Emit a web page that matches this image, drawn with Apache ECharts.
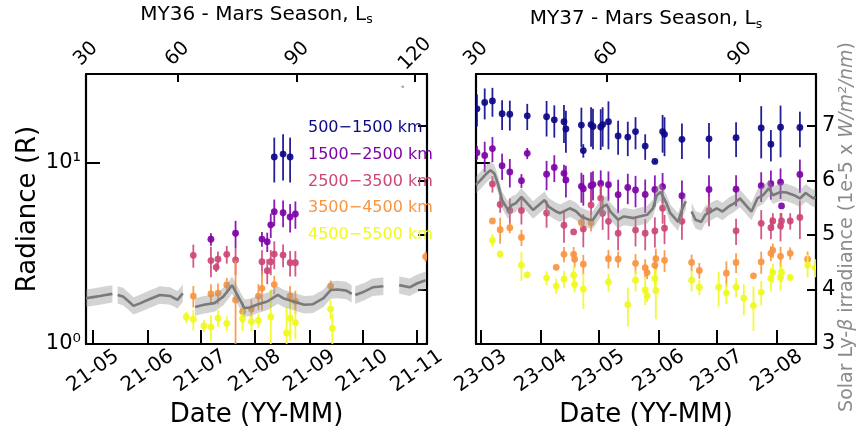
<!DOCTYPE html>
<html>
<head>
<meta charset="utf-8">
<script src="https://cdn.jsdelivr.net/npm/echarts@6/dist/echarts.min.js"></script>
<style>
  html, body { margin: 0; padding: 0; background: #fff; }
  #chart { width: 858px; height: 427px; }
</style>
</head>
<body>
<div id="chart"></div>
<script>
// ---- Altitude bands (legend labels) ----
const bandNames = ['500−1500 km', '1500−2500 km', '2500−3500 km', '3500−4500 km', '4500−5500 km'];

// ---- MY36 radiance observations: [date, radiance (R), 1-sigma error] ----
const my36Band1 = [
  ['2021-08-12', 10.8, 3.0], ['2021-08-17', 11.2, 3.2], ['2021-08-21', 10.8, 3.0]
];
const my36Band2 = [
  ['2021-07-07', 3.79, 0.3], ['2021-07-21', 4.09, 0.7], ['2021-08-05', 3.80, 0.35], ['2021-08-08', 3.67, 0.45],
  ['2021-08-10', 4.55, 0.7], ['2021-08-12', 5.38, 0.9], ['2021-08-17', 5.31, 0.9], ['2021-08-21', 5.03, 0.9],
  ['2021-08-24', 5.23, 0.9]
];
const my36Band3 = [
  ['2021-06-27', 3.09, 0.45], ['2021-07-07', 2.89, 0.55], ['2021-07-10', 2.65, 0.15], ['2021-07-11', 2.94, 0.3],
  ['2021-07-16', 3.13, 0.35], ['2021-07-21', 2.91, 0.5], ['2021-08-05', 2.85, 0.45], ['2021-08-08', 2.54, 0.4],
  ['2021-08-10', 2.85, 0.45], ['2021-08-12', 3.14, 0.55], ['2021-08-17', 3.10, 0.45], ['2021-08-21', 2.81, 0.45],
  ['2021-08-24', 2.81, 0.45]
];
const my36Band4 = [
  ['2021-06-27', 1.84, 0.25], ['2021-07-07', 1.89, 0.25], ['2021-07-11', 1.91, 0.25], ['2021-07-16', 2.12, 0.2],
  ['2021-07-21', 1.75, 1.15], ['2021-07-25', 1.51, 0.2], ['2021-07-30', 1.56, 0.2], ['2021-08-03', 1.84, 0.3],
  ['2021-08-05', 2.03, 0.5], ['2021-08-12', 2.13, 0.25], ['2021-08-21', 1.84, 0.25], ['2021-08-24', 1.72, 0.25],
  ['2021-09-13', 2.09, 0.15], ['2021-11-06', 3.04, 0.2]
];
const my36Band5 = [
  ['2021-06-23', 1.41, 0.1], ['2021-06-27', 1.37, 0.18], ['2021-07-03', 1.26, 0.1], ['2021-07-07', 1.24, 0.2],
  ['2021-07-11', 1.39, 0.15], ['2021-07-16', 1.30, 0.12], ['2021-07-25', 1.38, 0.2], ['2021-07-30', 1.33, 0.15],
  ['2021-08-03', 1.35, 0.12], ['2021-08-10', 1.41, 0.6], ['2021-08-19', 1.15, 0.45], ['2021-08-21', 1.39, 0.35],
  ['2021-08-24', 1.31, 0.25], ['2021-09-13', 1.56, 0.19], ['2021-09-14', 1.22, 0.25]
];

// ---- MY37 radiance observations ----
const my37Band1 = [
  ['2023-02-27', 19.9, 4.0], ['2023-03-03', 21.6, 4.2], ['2023-03-07', 22.0, 4.0], ['2023-03-12', 18.7, 3.5],
  ['2023-03-16', 18.6, 3.5], ['2023-03-25', 18.2, 3.0], ['2023-04-04', 18.0, 4.0], ['2023-04-08', 17.3, 3.5],
  ['2023-04-13', 16.9, 4.0], ['2023-04-14', 15.4, 4.0], ['2023-04-22', 16.2, 4.0], ['2023-04-23', 11.7, 1.0],
  ['2023-04-27', 16.3, 4.0], ['2023-04-28', 15.9, 4.0], ['2023-05-02', 15.8, 4.0], ['2023-05-03', 16.3, 4.0],
  ['2023-05-06', 16.9, 5.0], ['2023-05-11', 14.1, 3.0], ['2023-05-16', 13.9, 3.0], ['2023-05-20', 14.9, 3.0],
  ['2023-05-25', 12.4, 2.0], ['2023-05-30', 10.2, 0.2], ['2023-06-03', 14.9, 3.5], ['2023-06-04', 14.4, 3.5],
  ['2023-06-13', 13.5, 3.0], ['2023-06-27', 13.6, 3.0], ['2023-07-11', 13.8, 3.0], ['2023-07-24', 15.6, 5.0],
  ['2023-07-29', 12.7, 2.5], ['2023-08-03', 15.75, 5.0], ['2023-08-13', 15.7, 3.5]
];
const my37Band2 = [
  ['2023-02-27', 11.4, 1.0], ['2023-03-03', 11.0, 2.1], ['2023-03-07', 12.0, 1.9], ['2023-03-12', 9.66, 1.6],
  ['2023-03-16', 8.92, 1.6], ['2023-03-22', 7.98, 0.7], ['2023-03-25', 11.3, 0.8], ['2023-04-04', 8.67, 1.6],
  ['2023-04-08', 9.44, 1.6], ['2023-04-13', 8.77, 1.0], ['2023-04-14', 8.05, 1.6], ['2023-04-22', 7.43, 1.4],
  ['2023-04-23', 7.21, 1.4], ['2023-04-27', 7.49, 1.4], ['2023-04-28', 7.6, 1.4], ['2023-05-02', 7.7, 1.4],
  ['2023-05-06', 7.58, 1.4], ['2023-05-11', 6.68, 1.4], ['2023-05-16', 7.32, 1.4], ['2023-05-20', 7.09, 1.4],
  ['2023-05-25', 6.70, 1.4], ['2023-05-30', 7.14, 1.4], ['2023-06-03', 7.40, 1.4], ['2023-06-13', 6.59, 1.4],
  ['2023-06-27', 7.14, 1.4], ['2023-07-11', 7.16, 1.4], ['2023-07-24', 7.49, 1.4], ['2023-07-29', 7.68, 1.4],
  ['2023-08-03', 7.83, 1.5], ['2023-08-03T12:00', 5.79, 0], ['2023-08-13', 8.64, 1.8]
];
const my37Band3 = [
  ['2023-03-07', 7.66, 0.8], ['2023-03-11', 5.90, 0.6], ['2023-03-16', 5.47, 0.9], ['2023-03-22', 5.47, 0.9],
  ['2023-04-04', 5.29, 0.9], ['2023-04-13', 4.53, 0.9], ['2023-04-18', 4.16, 0], ['2023-04-23', 4.32, 0.9],
  ['2023-04-27', 5.86, 1.2], ['2023-05-02', 6.38, 1.2], ['2023-05-03', 5.27, 1.0], ['2023-05-06', 4.76, 1.0],
  ['2023-05-11', 4.09, 0.8], ['2023-05-20', 4.26, 0.8], ['2023-05-25', 4.09, 0.8], ['2023-05-30', 4.21, 0.8],
  ['2023-06-03', 5.62, 1.0], ['2023-06-04', 4.36, 0.8], ['2023-06-13', 4.76, 1.0], ['2023-06-27', 5.47, 1.0],
  ['2023-07-11', 4.22, 0.7], ['2023-07-24', 4.64, 0.85], ['2023-07-29', 4.39, 0.6], ['2023-07-30', 4.78, 0.5],
  ['2023-08-03', 4.49, 0.8], ['2023-08-03T12:00', 4.78, 0.5], ['2023-08-08', 4.78, 0.5], ['2023-08-13', 5.00, 1.2]
];
const my37Band4 = [
  ['2023-03-07', 4.78, 0], ['2023-03-11', 4.28, 0.7], ['2023-03-16', 4.39, 0.3], ['2023-03-22', 3.88, 0.4],
  ['2023-04-09', 2.65, 0], ['2023-04-13', 3.13, 0.3], ['2023-04-18', 3.13, 0.3], ['2023-04-18T12:00', 2.94, 0.3],
  ['2023-04-22', 4.68, 0.3], ['2023-04-23', 2.76, 0.35], ['2023-04-27', 4.68, 0.5], ['2023-05-06', 2.96, 0.35],
  ['2023-05-11', 2.94, 0.3], ['2023-05-20', 2.79, 0.35], ['2023-05-25', 2.64, 0.3], ['2023-05-26', 2.48, 0.2],
  ['2023-05-30', 2.72, 0.3], ['2023-05-30T12:00', 2.96, 0.4], ['2023-06-04', 2.90, 0.4], ['2023-06-18', 2.82, 0.3],
  ['2023-06-22', 2.55, 0.25], ['2023-07-06', 2.46, 0.4], ['2023-07-11', 2.82, 0.35], ['2023-07-20', 2.38, 0],
  ['2023-07-24', 2.84, 0.4], ['2023-07-29', 3.17, 0.3], ['2023-07-30', 3.29, 0.3], ['2023-08-03', 3.05, 0.4],
  ['2023-08-08', 3.17, 0.25], ['2023-08-17', 2.94, 0.3]
];
const my37Band5 = [
  ['2023-03-07', 3.74, 0.3], ['2023-03-11', 3.14, 0.15], ['2023-03-22', 2.73, 0.5], ['2023-03-25', 2.41, 0.1],
  ['2023-04-04', 2.32, 0.2], ['2023-04-09', 2.09, 0.2], ['2023-04-13', 2.28, 0.25], ['2023-04-18', 2.40, 0.3],
  ['2023-04-18T12:00', 2.13, 0.2], ['2023-04-23', 2.01, 0.45], ['2023-05-06', 2.20, 0.25], ['2023-05-16', 1.65, 0.4],
  ['2023-05-20', 2.25, 0.3], ['2023-05-25', 1.99, 0.35], ['2023-05-26', 1.85, 0.15], ['2023-05-30', 2.30, 0.3],
  ['2023-05-30T12:00', 1.97, 0.6], ['2023-06-18', 2.25, 0.3], ['2023-06-22', 2.06, 0.2], ['2023-07-02', 2.06, 0.45],
  ['2023-07-06', 1.91, 0.25], ['2023-07-11', 2.06, 0.25], ['2023-07-15', 1.79, 0.35], ['2023-07-20', 1.63, 0.45],
  ['2023-07-24', 1.93, 0.3], ['2023-07-29', 2.30, 0.35], ['2023-07-30', 2.48, 0.3], ['2023-08-03', 2.33, 0.35],
  ['2023-08-03T12:00', 2.49, 0.3], ['2023-08-08', 2.33, 0.1], ['2023-08-17', 2.73, 0.4], ['2023-08-21', 2.64, 0.3]
];

// ---- Solar Lyman-beta irradiance (1e-5 W/m^2/nm), null = data gap ----
const my36Lya = [
  ['2021-04-27', 3.84], ['2021-05-01', 3.86], ['2021-05-05', 3.88], ['2021-05-08', 3.90], ['2021-05-12', 3.92],
  ['2021-05-14', null], ['2021-05-15', 3.90], ['2021-05-18', 3.87], ['2021-05-21', 3.79], ['2021-05-24', 3.70],
  ['2021-05-28', 3.75], ['2021-06-02', 3.82], ['2021-06-08', 3.90], ['2021-06-14', 3.88], ['2021-06-18', 3.81],
  ['2021-06-21', 3.93], ['2021-06-24', null], ['2021-06-28', 3.68], ['2021-07-03', 3.72], ['2021-07-09', 3.75],
  ['2021-07-14', 3.87], ['2021-07-17', 3.99], ['2021-07-19', 4.08], ['2021-07-23', 3.84], ['2021-07-26', 3.66],
  ['2021-07-29', 3.67], ['2021-08-02', 3.72], ['2021-08-08', 3.78], ['2021-08-14', 3.90], ['2021-08-17', 3.84],
  ['2021-08-23', 3.78], ['2021-08-29', 3.72], ['2021-09-03', 3.73], ['2021-09-09', 3.84], ['2021-09-13', 3.99],
  ['2021-09-17', 4.00], ['2021-09-22', 3.98], ['2021-09-25', 3.92], ['2021-09-26', null], ['2021-09-27', 3.90],
  ['2021-10-02', 3.96], ['2021-10-07', 4.04], ['2021-10-13', 4.06], ['2021-10-19', null], ['2021-10-22', 4.08],
  ['2021-10-28', 4.04], ['2021-11-01', 4.11], ['2021-11-06', 4.17]
];
const my36LyaStray = [['2021-10-24', 7.72]];
const my37Lya = [
  ['2023-02-26T12:00', 5.92], ['2023-03-01', 6.01], ['2023-03-04', 6.13], ['2023-03-06', 6.19], ['2023-03-08', 6.13],
  ['2023-03-10', 5.92], ['2023-03-12', 5.64], ['2023-03-15', 5.46], ['2023-03-17', 5.55], ['2023-03-19', 5.58],
  ['2023-03-22', 5.70], ['2023-03-25', 5.58], ['2023-03-28', 5.46], ['2023-03-31', 5.55], ['2023-04-03', 5.64],
  ['2023-04-05', 5.52], ['2023-04-09', 5.43], ['2023-04-11', 5.40], ['2023-04-16', 5.49], ['2023-04-19', 5.44],
  ['2023-04-22', 5.34], ['2023-04-26', 5.28], ['2023-04-28', 5.28], ['2023-05-02', 5.49], ['2023-05-05', 5.56],
  ['2023-05-07', 5.43], ['2023-05-11', 5.28], ['2023-05-14', 5.34], ['2023-05-19', 5.31], ['2023-05-22', 5.34],
  ['2023-05-26', 5.37], ['2023-05-29', 5.49], ['2023-05-31', 5.73], ['2023-06-02', 5.79], ['2023-06-05', 5.58],
  ['2023-06-07', 5.40], ['2023-06-11', 5.24], ['2023-06-13', 5.46], ['2023-06-15', 5.62], ['2023-06-16', null],
  ['2023-06-18', 5.43], ['2023-06-20', 5.28], ['2023-06-23', 5.24], ['2023-06-25', 5.37], ['2023-06-28', 5.43],
  ['2023-07-01', 5.49], ['2023-07-04', 5.43], ['2023-07-07', 5.52], ['2023-07-10', 5.58], ['2023-07-13', 5.67],
  ['2023-07-16', 5.55], ['2023-07-19', 5.43], ['2023-07-22', 5.67], ['2023-07-25', 5.73], ['2023-07-28', 5.86],
  ['2023-07-30', 5.73], ['2023-08-03', 5.79], ['2023-08-06', 5.78], ['2023-08-10', 5.73], ['2023-08-13', 5.67],
  ['2023-08-16', 5.77], ['2023-08-20', 5.67], ['2023-08-21', 5.70]
];
const lyaHalfWidth = 0.16;

// ---- Axis ticks ----
const my36Range = ['2021-04-27', '2021-11-06T19:00'];
const my37Range = ['2023-02-26T12:00', '2023-08-21T08:00'];
const my36Months = ['2021-05-01', '2021-06-01', '2021-07-01', '2021-08-01', '2021-09-01', '2021-10-01', '2021-11-01'];
const my37Months = ['2023-03-01', '2023-04-01', '2023-05-01', '2023-06-01', '2023-07-01', '2023-08-01'];
const my36LsTicks = [30, 60, 90, 120];
const my36LsDates = ['2021-04-27', '2021-06-18', '2021-08-25', '2021-10-31'];
const my37LsTicks = [30, 60, 90];
const my37LsDates = ['2023-02-26T12:00', '2023-05-05', '2023-07-13'];

const bandColors = ['#0d0887', '#7e03a8', '#cc4778', '#f89540', '#f0f921'];
const FONT = 'DejaVu Sans';

// Dates are plotted as millisecond timestamps on value axes
const ts = s => +echarts.number.parseDate(s);
const toTime = rows => rows.map(r => [ts(r[0])].concat(r.slice(1)));
const fmtMonth = v => {
  const d = new Date(v);
  return String(d.getFullYear()).slice(2) + '-' + String(d.getMonth() + 1).padStart(2, '0');
};
const lsFormatter = (dates, ticks) => {
  const times = dates.map(ts);
  return v => {
    let best = -1, bestD = Infinity;
    times.forEach((t, i) => { const d = Math.abs(t - v); if (d < bestD) { bestD = d; best = i; } });
    return bestD < 3600e3 ? String(ticks[best]) : '';
  };
};

// Error bar + marker drawn through the axis scales
function errorBarItem(color) {
  return function (params, api) {
    const t = api.value(0), v = api.value(1), e = api.value(2);
    const cs = params.coordSys;
    const p = api.coord([t, v]);
    const hi = api.coord([t, v + e]);
    const lo = api.coord([t, Math.max(v - e, 0.05)]);
    const yBottom = cs.y + cs.height;
    const children = [];
    if (e > 0) {
      children.push({
        type: 'line',
        shape: { x1: p[0], y1: Math.max(hi[1], cs.y), x2: p[0], y2: Math.min(lo[1], yBottom) },
        style: { stroke: color, lineWidth: 1.8, opacity: 0.9 }
      });
    }
    children.push({
      type: 'circle',
      shape: { cx: p[0], cy: p[1], r: 3.4 },
      style: { fill: color, opacity: 0.92 }
    });
    return { type: 'group', children: children };
  };
}

// Shaded uncertainty band around the irradiance curve, split at gaps
function lyaBandItem(rows) {
  return function (params, api) {
    if (params.dataIndex !== 0) return null;
    const polys = [];
    let seg = [];
    const flush = () => {
      if (seg.length > 1) {
        const upper = seg.map(d => api.coord([d[0], d[1] + lyaHalfWidth]));
        const lower = seg.map(d => api.coord([d[0], d[1] - lyaHalfWidth])).reverse();
        polys.push({
          type: 'polygon',
          shape: { points: upper.concat(lower) },
          style: { fill: 'rgba(150,150,150,0.42)' }
        });
      }
      seg = [];
    };
    rows.forEach(d => { if (d[1] == null) flush(); else seg.push(d); });
    flush();
    return { type: 'group', children: polys };
  };
}

const axisLineStyle = { show: true, onZero: false, lineStyle: { color: '#000', width: 2.2 } };

function bottomAxis(grid, range, months) {
  return {
    type: 'value', gridIndex: grid, position: 'bottom',
    min: ts(range[0]), max: ts(range[1]),
    axisLine: axisLineStyle,
    splitLine: { show: false },
    axisTick: { inside: true, length: 14, customValues: months.map(ts), lineStyle: { color: '#000', width: 2 } },
    axisLabel: {
      customValues: months.map(ts), formatter: fmtMonth,
      rotate: 35, align: 'center', verticalAlign: 'middle', margin: 27,
      fontFamily: FONT, fontSize: 20, color: '#000', hideOverlap: false
    },
    name: 'Date (YY-MM)', nameLocation: 'middle', nameGap: 53,
    nameTextStyle: { fontFamily: FONT, fontSize: 26, color: '#000' }
  };
}

function topAxis(grid, range, lsDates, lsTicks, title, gap) {
  return {
    type: 'value', gridIndex: grid, position: 'top',
    min: ts(range[0]), max: ts(range[1]),
    axisLine: axisLineStyle,
    splitLine: { show: false },
    axisTick: { inside: true, length: 8, customValues: lsDates.map(ts), lineStyle: { color: '#000', width: 2 } },
    axisLabel: {
      customValues: lsDates.map(ts), formatter: lsFormatter(lsDates, lsTicks),
      rotate: -45, align: 'center', verticalAlign: 'middle', margin: 20,
      fontFamily: FONT, fontSize: 19.5, color: '#000', hideOverlap: false
    },
    name: '{t|' + title + ', L}{s|s}', nameLocation: 'middle', nameGap: gap,
    nameTextStyle: {
      rich: {
        t: { fontFamily: FONT, fontSize: 20, color: '#000', lineHeight: 24, verticalAlign: 'middle' },
        s: { fontFamily: FONT, fontSize: 12.5, color: '#000', lineHeight: 12, verticalAlign: 'bottom' }
      }
    }
  };
}

function logAxis(grid, showLabels) {
  return {
    type: 'log', logBase: 10, gridIndex: grid, position: 'left',
    min: 1, max: 31,
    axisLine: axisLineStyle,
    splitLine: { show: false },
    minorTick: { show: false },
    axisTick: { inside: true, length: 14, lineStyle: { color: '#000', width: 2 } },
    axisLabel: {
      show: showLabels, margin: 5, fontFamily: FONT, fontSize: 21, color: '#000',
      showMaxLabel: false,
      formatter: v => {
        const e = Math.log10(v);
        if (Math.abs(e - Math.round(e)) > 1e-6) return '';
        return Math.round(e) === 0 ? '10⁰' : '10¹';
      }
    },
    name: showLabels ? 'Radiance (R)' : '', nameLocation: 'middle', nameRotate: 90, nameGap: 45,
    nameTextStyle: { fontFamily: FONT, fontSize: 26, color: '#000' }
  };
}

function lyaAxis(grid, showLabels) {
  return {
    type: 'value', gridIndex: grid, position: 'right',
    min: 3, max: 7.954, interval: 1,
    axisLine: axisLineStyle,
    splitLine: { show: false },
    axisTick: { inside: true, length: 9, lineStyle: { color: '#000', width: 2 } },
    axisLabel: { show: showLabels, margin: 6, fontFamily: FONT, fontSize: 21, color: '#000', showMaxLabel: false }
  };
}

const panels = [
  { bands: [my36Band1, my36Band2, my36Band3, my36Band4, my36Band5], lya: my36Lya, x: 0, yLog: 0, yLya: 1 },
  { bands: [my37Band1, my37Band2, my37Band3, my37Band4, my37Band5], lya: my37Lya, x: 2, yLog: 2, yLya: 3 }
];

const series = [];
panels.forEach(pn => {
  pn.bands.forEach((rows, i) => {
    series.push({
      type: 'custom', name: bandNames[i],
      xAxisIndex: pn.x, yAxisIndex: pn.yLog,
      dimensions: ['date', 'radiance', 'err'],
      encode: { x: 0, y: 1 },
      data: toTime(rows), clip: true, z: 2,
      itemStyle: { color: bandColors[i] },
      renderItem: errorBarItem(bandColors[i])
    });
  });
  const lyaRows = toTime(pn.lya);
  series.push({
    type: 'custom', name: 'lya band',
    xAxisIndex: pn.x, yAxisIndex: pn.yLya,
    dimensions: ['date', 'lya'],
    encode: { x: 0, y: 1 },
    data: [lyaRows[0]], clip: true, z: 3, silent: true,
    renderItem: lyaBandItem(lyaRows)
  });
  series.push({
    type: 'line', name: 'lya',
    xAxisIndex: pn.x, yAxisIndex: pn.yLya,
    data: lyaRows, showSymbol: false, connectNulls: false, z: 4, silent: true,
    lineStyle: { color: '#7a7a7a', width: 2.6 }
  });
});
series.push({
  type: 'scatter', name: 'lya stray', xAxisIndex: 0, yAxisIndex: 1,
  data: toTime(my36LyaStray), symbolSize: 2.5, itemStyle: { color: '#888' }, z: 4, silent: true
});

const option = {
  animation: false,
  backgroundColor: '#fff',
  textStyle: { fontFamily: FONT },
  grid: [
    { left: 86, top: 74, width: 341, height: 270, outerBoundsMode: 'none', containLabel: false },
    { left: 476, top: 74, width: 340, height: 270, outerBoundsMode: 'none', containLabel: false }
  ],
  xAxis: [
    bottomAxis(0, my36Range, my36Months),
    topAxis(0, my36Range, my36LsDates, my36LsTicks, 'MY36 - Mars Season', 43),
    bottomAxis(1, my37Range, my37Months),
    topAxis(1, my37Range, my37LsDates, my37LsTicks, 'MY37 - Mars Season', 37)
  ],
  yAxis: [
    logAxis(0, true),
    lyaAxis(0, false),
    logAxis(1, false),
    lyaAxis(1, true)
  ],
  legend: {
    orient: 'vertical', left: 298, top: 114,
    icon: 'none', itemWidth: 0, itemHeight: 18, itemGap: 8.75,
    selectedMode: false,
    textStyle: { fontFamily: FONT, fontSize: 16, lineHeight: 18 },
    data: bandNames.map((n, i) => ({ name: n, textStyle: { color: bandColors[i] } }))
  },
  graphic: [{
    type: 'text', x: 847, y: 227, rotation: Math.PI / 2,
    style: {
      text: '{n|Solar Ly-}{i|β}{n| irradiance (1e-5 x }{i|W/m²/nm}{n|)}',
      align: 'center', verticalAlign: 'middle',
      rich: {
        n: { fontFamily: FONT, fontSize: 19, fill: '#8c8c8c' },
        i: { fontFamily: FONT, fontSize: 19, fontStyle: 'italic', fill: '#8c8c8c' }
      }
    }
  }],
  series: series
};

const chart = echarts.init(document.getElementById('chart'), null, { renderer: 'canvas' });
chart.setOption(option);
</script>
</body>
</html>
